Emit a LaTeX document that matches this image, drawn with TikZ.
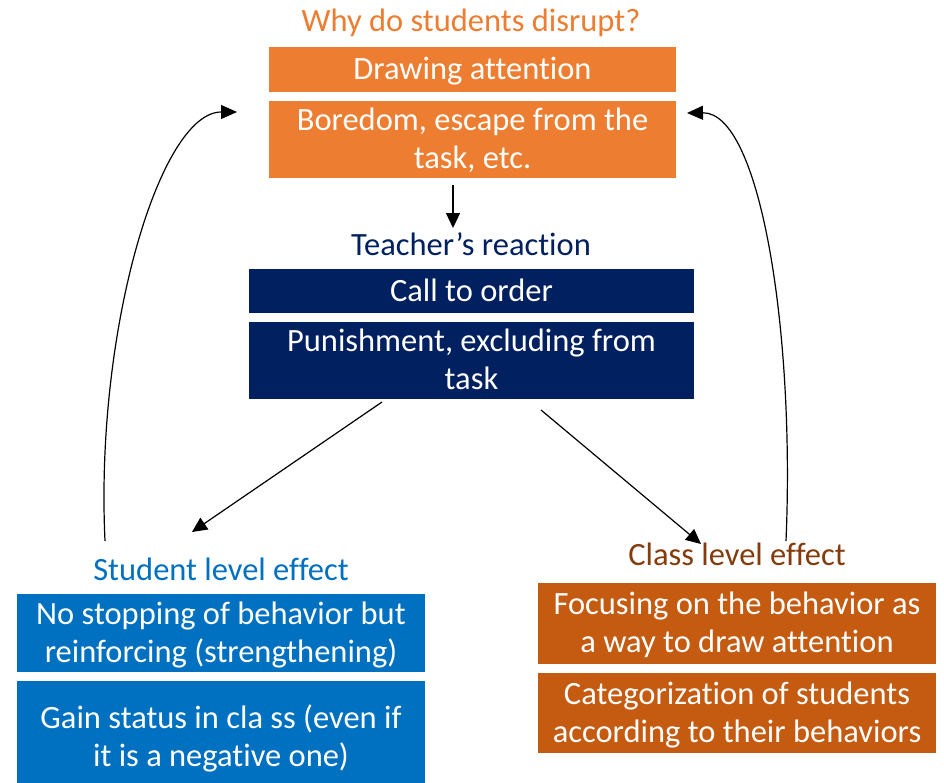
\documentclass[tikz,border=0pt]{standalone}
\usepackage{fontspec}
\setmainfont[Ligatures=NoCommon]{Carlito}
\usetikzlibrary{arrows.meta}
\definecolor{orng}{HTML}{ED7D31}
\definecolor{navy}{HTML}{002060}
\definecolor{blu}{HTML}{0070C0}
\definecolor{brn}{HTML}{C55A11}
\definecolor{dbrn}{HTML}{843C0C}
\newcommand\ms{\rule[-9pt]{0pt}{38pt}}
\begin{document}
\begin{tikzpicture}[x=1pt,y=-1pt,
  box/.style={rectangle, inner sep=0pt, align=center, text=white,
    font=\fontsize{32.5}{38}\selectfont},
  ttl/.style={inner sep=0pt, font=\fontsize{32.5}{38}\selectfont},
  conn/.style={line width=1.2pt, -{Triangle[length=15pt,width=14pt]}},
  curv/.style={line width=1.2pt, -{Triangle[length=16pt,width=14pt]}}]
\clip (0,0) rectangle (944,782);
\fill[white] (0,0) rectangle (944,782);

\node[ttl, text=orng] (why) at (471,21) {\ms Why do students disrupt?};
\node[box, fill=orng, minimum width=407pt, minimum height=45pt] (b1) at (472.5,69.5) {\ms Drawing attention};
\node[box, fill=orng, minimum width=407pt, minimum height=77pt] (b2) at (472.5,139.5) {\ms Boredom, escape from the\\\ms task, etc.};

\node[ttl, text=navy] (teach) at (471,245) {\ms Teacher’s reaction};
\node[box, fill=navy, minimum width=445pt, minimum height=44pt] (b3) at (471.5,291) {\ms Call to order};
\node[box, fill=navy, minimum width=445pt, minimum height=77pt] (b4) at (471.5,360.5) {\ms Punishment, excluding from\\\ms task};

\node[ttl, text=blu] (stud) at (221,570) {\ms Student level effect};
\node[box, fill=blu, minimum width=408pt, minimum height=78pt] (b5) at (221,633) {\ms No stopping of behavior but\\\ms reinforcing (strengthening)};
\node[box, fill=blu, minimum width=408pt, minimum height=112pt] (b6) at (221,737) {\ms Gain status in cla ss (even if\\\ms it is a negative one)};

\node[ttl, text=dbrn] (cls) at (737,555) {\ms Class level effect};
\node[box, fill=brn, minimum width=398pt, minimum height=81pt] (b7) at (737,623.5) {\ms Focusing on the behavior as\\\ms a way to draw attention};
\node[box, fill=brn, minimum width=398pt, minimum height=80pt] (b8) at (737,713) {\ms Categorization of students\\\ms according to their behaviors};

\coordinate (dS) at (453,185);
\coordinate (dE) at (453,228);
\coordinate (lS) at (382,402);
\coordinate (lE) at (192,532);
\coordinate (rS) at (541,410);
\coordinate (rE) at (701,544);
\coordinate (cLS) at (105,541);
\coordinate (cLE) at (237,112);
\coordinate (cRS) at (786,541);
\coordinate (cRE) at (687,113);

\draw[conn] (dS) -- (dE);
\draw[conn] (lS) -- (lE);
\draw[conn] (rS) -- (rE);
\draw[curv] (cLS) .. controls (95,330) and (160,112) .. (cLE);
\draw[curv] (cRS) .. controls (795,330) and (760,112) .. (cRE);
\end{tikzpicture}
\end{document}
